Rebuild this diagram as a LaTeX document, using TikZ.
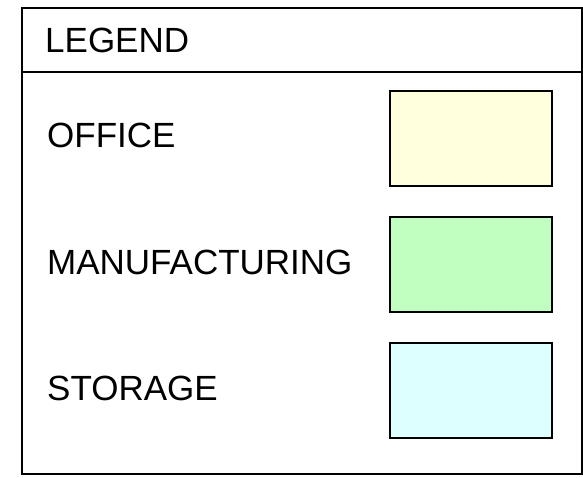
\documentclass[tikz,border=0pt]{standalone}
\usepackage{fontspec}
\setmainfont{Liberation Sans}
\definecolor{officefill}{HTML}{FFFFDD}
\definecolor{manufill}{HTML}{C0FFC0}
\definecolor{storefill}{HTML}{DDFFFF}
\begin{document}
\begin{tikzpicture}[
        x                       = 1pt,
        y                       = -1pt,
        label/.style            = {anchor=base west, inner sep=0pt, font=\fontsize{35}{40}\selectfont},
        swatch/.style           = {draw, line width=1.3pt, minimum width=162pt, minimum height=95pt, inner sep=0pt},
      ]
        \useasboundingbox (0,0) rectangle (583,478);
        % frame
        \draw[line width=1.3pt] (22,8) rectangle (582,474);
        \draw[line width=1.3pt] (22,72) -- (582,72);
        \node[label] (legend) at (45,53) {LEGEND};
        % rows
        \node[label] (office) at (47,148) {OFFICE};
        \node[swatch, fill=officefill] (officebox) at (471,138.5) {};
        \node[label] (manu) at (47,274) {MANUFACTURING};
        \node[swatch, fill=manufill] (manubox) at (471,264.5) {};
        \node[label] (storage) at (47,400) {STORAGE};
        \node[swatch, fill=storefill] (storebox) at (471,390.5) {};
    \end{tikzpicture}
\end{document}
